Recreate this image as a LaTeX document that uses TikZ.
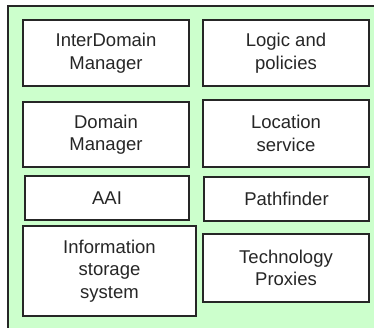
\documentclass[tikz,border=0pt]{standalone}
\usepackage{fontspec}
\setmainfont{Liberation Sans}
\definecolor{panelgreen}{HTML}{CCFFCC}
\tikzset{
  module/.style={draw=black!85, line width=2pt, fill=white, align=center,
    text=black!85, font=\fontsize{18.5}{22.5}\selectfont, inner sep=0pt},
}

\begin{document}
\begin{tikzpicture}[x=1pt,y=-1pt]
				%%%%% START %%%%%
				\useasboundingbox (0,0) rectangle (374,327);
				
				\draw[black!85, line width=2pt, fill=panelgreen] (8,6) rectangle (384,340);
				
				\node[module, minimum width=166pt, minimum height=66pt] (idm) at (106,53) {InterDomain\\Manager};
				\node[module, minimum width=166pt, minimum height=66pt] (logic) at (286,53) {Logic and\\policies};
				
				\node[module, minimum width=166pt, minimum height=65pt] (dm) at (106,134.5) {Domain\\Manager};
				\node[module, minimum width=166pt, minimum height=67pt] (loc) at (286,133.5) {Location\\service};
				
				\node[module, minimum width=164pt, minimum height=44pt] (aai) at (107,198) {AAI};
				\node[module, minimum width=165pt, minimum height=44pt] (path) at (286.5,199) {Pathfinder};
				
				\node[module, minimum width=173pt, minimum height=90pt] (info) at (109.5,271) {Information\\storage\\system};
				\node[module, minimum width=166pt, minimum height=68pt] (tech) at (286,268) {Technology\\Proxies};
				%%%%% END %%%%%
\end{tikzpicture}
\end{document}
